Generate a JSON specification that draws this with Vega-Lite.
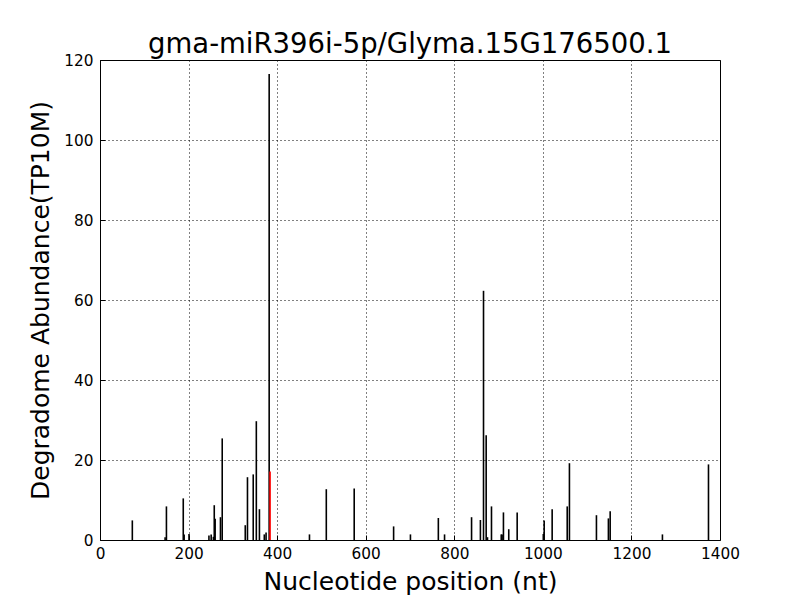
{
  "$schema": "https://vega.github.io/schema/vega-lite/v6.json",
  "autosize": "none",
  "width": 620,
  "height": 480,
  "padding": {"left": 100, "top": 60, "right": 80, "bottom": 60},
  "background": "white",
  "title": {"text": "gma-miR396i-5p/Glyma.15G176500.1", "font": "DejaVu Sans", "fontSize": 27.5, "fontWeight": "normal", "color": "black", "offset": -5},
  "config": {
    "view": {"stroke": "black", "strokeWidth": 1},
    "axis": {"labelFont": "DejaVu Sans", "titleFont": "DejaVu Sans", "labelFontSize": 15.3, "titleFontSize": 25, "titleFontWeight": "normal", "labelColor": "black", "titleColor": "black", "domain": false, "tickColor": "black", "grid": true, "gridColor": "black", "gridDash": [1, 3], "gridOpacity": 1, "gridWidth": 1}
  },
  "data": {"values": [
    {"pos": 73, "value": 4.9, "site": "other"},
    {"pos": 147, "value": 0.7, "site": "other"},
    {"pos": 150, "value": 8.4, "site": "other"},
    {"pos": 188, "value": 10.4, "site": "other"},
    {"pos": 190, "value": 1.4, "site": "other"},
    {"pos": 201, "value": 1.5, "site": "other"},
    {"pos": 246, "value": 1.1, "site": "other"},
    {"pos": 251, "value": 1.4, "site": "other"},
    {"pos": 256, "value": 0.8, "site": "other"},
    {"pos": 258, "value": 8.7, "site": "other"},
    {"pos": 260, "value": 5.3, "site": "other"},
    {"pos": 272, "value": 5.7, "site": "other"},
    {"pos": 276, "value": 25.4, "site": "other"},
    {"pos": 328, "value": 3.7, "site": "other"},
    {"pos": 333, "value": 15.7, "site": "other"},
    {"pos": 346, "value": 16.4, "site": "other"},
    {"pos": 353, "value": 29.7, "site": "other"},
    {"pos": 360, "value": 7.7, "site": "other"},
    {"pos": 371, "value": 1.4, "site": "other"},
    {"pos": 375, "value": 1.9, "site": "other"},
    {"pos": 382, "value": 116.5, "site": "other"},
    {"pos": 473, "value": 1.4, "site": "other"},
    {"pos": 511, "value": 12.7, "site": "other"},
    {"pos": 574, "value": 12.9, "site": "other"},
    {"pos": 663, "value": 3.4, "site": "other"},
    {"pos": 701, "value": 1.4, "site": "other"},
    {"pos": 764, "value": 5.5, "site": "other"},
    {"pos": 778, "value": 1.4, "site": "other"},
    {"pos": 839, "value": 5.7, "site": "other"},
    {"pos": 859, "value": 5.0, "site": "other"},
    {"pos": 866, "value": 62.3, "site": "other"},
    {"pos": 872, "value": 26.2, "site": "other"},
    {"pos": 875, "value": 0.7, "site": "other"},
    {"pos": 884, "value": 8.4, "site": "other"},
    {"pos": 906, "value": 1.4, "site": "other"},
    {"pos": 908, "value": 1.4, "site": "other"},
    {"pos": 911, "value": 6.9, "site": "other"},
    {"pos": 923, "value": 2.7, "site": "other"},
    {"pos": 942, "value": 6.9, "site": "other"},
    {"pos": 1001, "value": 1.5, "site": "other"},
    {"pos": 1003, "value": 4.9, "site": "other"},
    {"pos": 1021, "value": 7.7, "site": "other"},
    {"pos": 1055, "value": 8.4, "site": "other"},
    {"pos": 1060, "value": 19.2, "site": "other"},
    {"pos": 1121, "value": 6.2, "site": "other"},
    {"pos": 1148, "value": 5.4, "site": "other"},
    {"pos": 1152, "value": 7.2, "site": "other"},
    {"pos": 1270, "value": 1.4, "site": "other"},
    {"pos": 1374, "value": 18.9, "site": "other"},
    {"pos": 384, "value": 17.1, "site": "cleavage"}
  ]},
  "mark": {"type": "rule", "strokeWidth": 1.6, "clip": true},
  "encoding": {
    "x": {"field": "pos", "type": "quantitative", "scale": {"domain": [0, 1400], "nice": false, "zero": false},
      "axis": {"title": "Nucleotide position (nt)", "values": [0, 200, 400, 600, 800, 1000, 1200, 1400], "format": "d", "tickSize": -5, "labelPadding": 11, "titlePadding": 8, "labelFlush": false}},
    "y": {"field": "value", "type": "quantitative", "scale": {"domain": [0, 120], "nice": false},
      "axis": {"title": "Degradome Abundance(TP10M)", "values": [0, 20, 40, 60, 80, 100, 120], "tickSize": -5, "labelPadding": 12, "titlePadding": 10, "labelFlush": false}},
    "y2": {"datum": 0},
    "color": {"field": "site", "type": "nominal", "scale": {"domain": ["other", "cleavage"], "range": ["black", "red"]}, "legend": null}
  }
}
